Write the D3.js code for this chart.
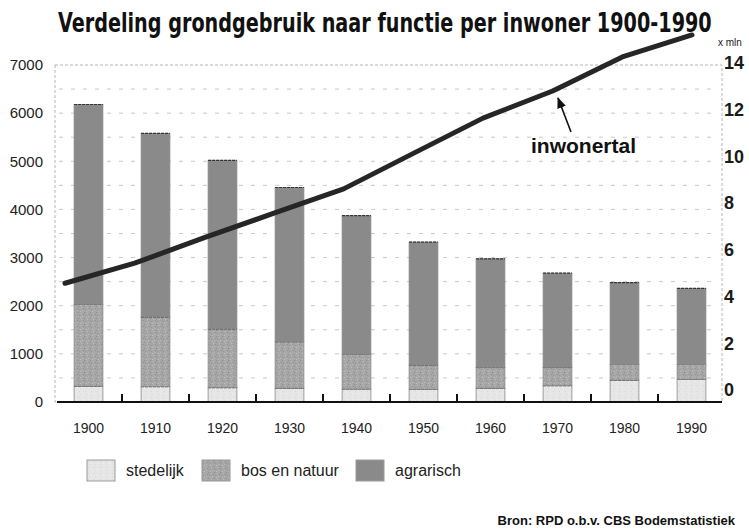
<!DOCTYPE html>
<html>
<head>
<meta charset="utf-8">
<script src="https://cdn.jsdelivr.net/npm/d3@7"></script>
<style>
  body { margin: 0; background: #fff; }
  svg { font-family: "Liberation Sans", Arial, sans-serif; }
</style>
</head>
<body>
<div id="chart"></div>
<script>
// data (m2 per inwoner, inwoners x mln)
var years = [1900, 1910, 1920, 1930, 1940, 1950, 1960, 1970, 1980, 1990];
var stedelijk = [330, 320, 300, 285, 270, 265, 285, 340, 455, 470];
var bosNatuur = [1700, 1450, 1220, 970, 720, 505, 435, 380, 325, 310];
var agrarisch = [4150, 3810, 3500, 3200, 2880, 2550, 2255, 1955, 1700, 1580];
var inwonertal = [4.57, 5.43, 6.52, 7.57, 8.61, 10.13, 11.64, 12.80, 14.26, 15.20];
var leftTicks = [0, 1000, 2000, 3000, 4000, 5000, 6000, 7000];
var rightTicks = [0, 2, 4, 6, 8, 10, 12, 14];
var gridValues = [500, 1000, 1500, 2000, 2500, 3000, 3500, 4000, 4500, 5000, 5500, 6000, 6500];
var seriesNames = ["stedelijk", "bos en natuur", "agrarisch"];

var W = 749, H = 528;
var plot = {left: 55, right: 722, top: 65, bottom: 402};

var svg = d3.select("#chart").append("svg")
  .attr("width", W)
  .attr("height", H);

// textures
var defs = svg.append("defs");
var pBos = defs.append("pattern").attr("id", "bos")
  .attr("width", 6).attr("height", 6).attr("patternUnits", "userSpaceOnUse");
pBos.append("rect").attr("width", 6).attr("height", 6).attr("fill", "#a6a6a6");
[[0,0,"#8e8e8e"],[3,1,"#bcbcbc"],[1,3,"#959595"],[4,4,"#b8b8b8"],[5,2,"#909090"],[2,5,"#c0c0c0"]].forEach(function(d) {
  pBos.append("rect").attr("x", d[0]).attr("y", d[1]).attr("width", 1).attr("height", 1).attr("fill", d[2]);
});
var pSted = defs.append("pattern").attr("id", "sted")
  .attr("width", 6).attr("height", 6).attr("patternUnits", "userSpaceOnUse");
pSted.append("rect").attr("width", 6).attr("height", 6).attr("fill", "#e6e6e6");
[[1,1,"#d6d6d6"],[4,3,"#f2f2f2"],[2,4,"#dadada"]].forEach(function(d) {
  pSted.append("rect").attr("x", d[0]).attr("y", d[1]).attr("width", 1).attr("height", 1).attr("fill", d[2]);
});
var fills = ["url(#sted)", "url(#bos)", "#8a8a8a"];

// scales
var x = d3.scaleBand()
  .domain(years)
  .range([plot.left, 725])
  .paddingInner(0.57)
  .paddingOuter(0.285);

var yL = d3.scaleLinear().domain([0, 7000]).range([plot.bottom, plot.top]);
var yR = d3.scaleLinear().domain([0, 14]).range([390, 63]);
var xLine = d3.scaleLinear().domain([1900, 1990]).range([65, 692]);

// frame + grid
svg.append("rect")
  .attr("x", plot.left).attr("y", yL(7000))
  .attr("width", plot.right - plot.left).attr("height", plot.bottom - yL(7000))
  .attr("fill", "none").attr("stroke", "#b5b5b5").attr("stroke-width", 1)
  .attr("stroke-dasharray", "3,2");

svg.append("g").selectAll("line")
  .data(gridValues)
  .enter().append("line")
    .attr("x1", plot.left + 4).attr("x2", plot.right - 4)
    .attr("y1", function(d) { return yL(d); })
    .attr("y2", function(d) { return yL(d); })
    .attr("stroke", "#c9c9c9").attr("stroke-width", 1)
    .attr("stroke-dasharray", "4,8");

// stacked bars
var rows = years.map(function(yr, i) {
  return {year: yr, stedelijk: stedelijk[i], bos: bosNatuur[i], agrarisch: agrarisch[i]};
});
var stack = d3.stack().keys(["stedelijk", "bos", "agrarisch"]);
var layers = stack(rows);

var layerG = svg.append("g").selectAll("g")
  .data(layers)
  .enter().append("g")
    .attr("fill", function(d, i) { return fills[i]; });

layerG.selectAll("rect")
  .data(function(d) { return d; })
  .enter().append("rect")
    .attr("x", function(d) { return x(d.data.year); })
    .attr("y", function(d) { return yL(d[1]); })
    .attr("width", x.bandwidth())
    .attr("height", function(d) { return yL(d[0]) - yL(d[1]); })
    .attr("stroke", "#8a8a8a")
    .attr("stroke-width", 0.8);

// dark dashed borders on top of each segment
layerG.selectAll("line")
  .data(function(d) { return d; })
  .enter().append("line")
    .attr("x1", function(d) { return x(d.data.year); })
    .attr("x2", function(d) { return x(d.data.year) + x.bandwidth(); })
    .attr("y1", function(d) { return yL(d[1]); })
    .attr("y2", function(d) { return yL(d[1]); })
    .attr("stroke", "#333")
    .attr("stroke-width", 1.2)
    .attr("stroke-dasharray", "3,1");

// baseline and ticks between bars
svg.append("line")
  .attr("x1", plot.left + 2).attr("x2", plot.right)
  .attr("y1", yL(0)).attr("y2", yL(0))
  .attr("stroke", "#111").attr("stroke-width", 2);

svg.append("g").selectAll("line")
  .data(years.slice(1))
  .enter().append("line")
    .attr("x1", function(d) { return x(d) - x.step() * x.paddingInner() / 2; })
    .attr("x2", function(d) { return x(d) - x.step() * x.paddingInner() / 2; })
    .attr("y1", yL(0)).attr("y2", yL(0) - 8)
    .attr("stroke", "#111").attr("stroke-width", 2);

// axes
var gx = svg.append("g")
  .attr("transform", "translate(0," + yL(0) + ")")
  .call(d3.axisBottom(x).tickSize(0).tickPadding(21));
gx.select(".domain").remove();
gx.selectAll("text").style("font-size", "14px").style("fill", "#222");

var gl = svg.append("g")
  .attr("transform", "translate(" + plot.left + ",0)")
  .call(d3.axisLeft(yL).tickValues(leftTicks).tickFormat(d3.format("d")).tickSize(0).tickPadding(12));
gl.select(".domain").remove();
gl.selectAll("text").style("font-size", "15px").style("fill", "#222");

var gr = svg.append("g")
  .attr("transform", "translate(" + plot.right + ",0)")
  .call(d3.axisRight(yR).tickValues(rightTicks).tickSize(0).tickPadding(2));
gr.select(".domain").remove();
gr.selectAll("text").style("font-size", "18px").style("font-weight", "bold").style("fill", "#1a1a1a");

svg.append("text")
  .attr("x", 718).attr("y", 46)
  .style("font-size", "10px")
  .style("fill", "#222")
  .text("x mln");

// population line
var line = d3.line()
  .x(function(d, i) { return xLine(years[i]); })
  .y(function(d) { return yR(d); });

svg.append("path")
  .datum(inwonertal)
  .attr("d", line)
  .attr("fill", "none")
  .attr("stroke", "#262626")
  .attr("stroke-width", 5)
  .attr("stroke-linecap", "round")
  .attr("stroke-linejoin", "round");

// annotation
defs.append("marker").attr("id", "arrow")
  .attr("viewBox", "0 0 10 10").attr("refX", 9).attr("refY", 5)
  .attr("markerWidth", 7).attr("markerHeight", 7).attr("orient", "auto")
  .append("path").attr("d", "M0,1 L10,5 L0,9 Z").attr("fill", "#111");

svg.append("line")
  .attr("x1", 571).attr("y1", 132)
  .attr("x2", 558).attr("y2", 98)
  .attr("stroke", "#111").attr("stroke-width", 1.6)
  .attr("marker-end", "url(#arrow)");

svg.append("text")
  .attr("x", 531).attr("y", 153)
  .style("font-size", "21px")
  .style("font-weight", "bold")
  .style("fill", "#111")
  .text("inwonertal");

// title, squeezed horizontally to the width of the original
var title = svg.append("text")
  .attr("x", 0).attr("y", 0)
  .style("font-family", "'Liberation Sans Narrow', 'DejaVu Sans Condensed', 'Liberation Sans', sans-serif")
  .style("font-size", "27px")
  .style("font-weight", "bold")
  .style("fill", "#111")
  .text("Verdeling grondgebruik naar functie per inwoner 1900-1990");
var tw = title.node().getComputedTextLength();
title.attr("transform", "translate(58,32) scale(" + (654 / tw) + ",1)");

// legend
var legend = svg.append("g").selectAll("g")
  .data(seriesNames)
  .enter().append("g")
    .attr("transform", function(d, i) { return "translate(" + [87, 202, 356][i] + ",460)"; });

legend.append("rect")
  .attr("width", 28).attr("height", 21)
  .attr("fill", function(d, i) { return fills[i]; })
  .attr("stroke", "#9a9a9a").attr("stroke-width", 1);

legend.append("text")
  .attr("x", 39).attr("y", 16)
  .style("font-size", "16px")
  .style("fill", "#222")
  .text(function(d) { return d; });

// source
svg.append("text")
  .attr("x", 735).attr("y", 525)
  .attr("text-anchor", "end")
  .style("font-size", "13px")
  .style("font-weight", "bold")
  .style("fill", "#111")
  .text("Bron: RPD o.b.v. CBS Bodemstatistiek");
</script>
</body>
</html>
